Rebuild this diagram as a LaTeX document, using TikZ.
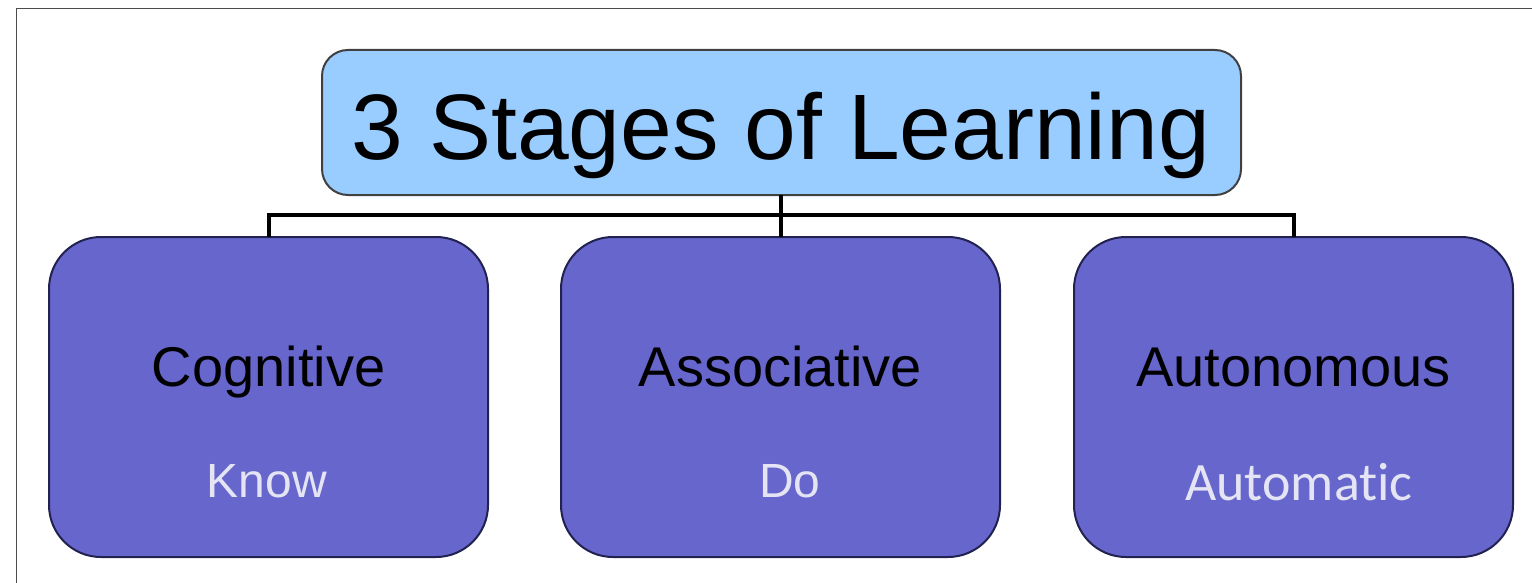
\documentclass[tikz,border=0pt]{standalone}
\usepackage{fontspec}
\setmainfont{Liberation Sans}
\newfontfamily\subfont[Ligatures=NoCommon]{Carlito}
\begin{document}
\begin{tikzpicture}[x=1pt,y=-1pt,
  titlebox/.style={draw=black!75, line width=2pt, fill=titleblue, rounded corners=26pt},
  stagebox/.style={draw=navy, line width=2pt, fill=stagepurple, rounded corners=52pt},
  link/.style={line width=4pt, black},
  stagename/.style={anchor=base, font=\fontsize{56}{60}\selectfont, text=black},
  stagesub/.style={anchor=base, font=\fontsize{48}{54}\selectfont, text=sublav}]
\definecolor{titleblue}{HTML}{99CCFF}
\definecolor{stagepurple}{HTML}{6666CC}
\definecolor{navy}{HTML}{222250}
\definecolor{sublav}{HTML}{E4E4F4}
\useasboundingbox (0,0) rectangle (1532,583);
% outer frame
\draw[line width=1.5pt, black!70] (16.5,600) -- (16.5,8.5) -- (1540,8.5);
% title
\draw[titlebox] (322,50) rectangle (1241,195);
\node[anchor=base, font=\fontsize{93}{100}\selectfont] (title) at (781,160) {3 Stages of Learning};
\coordinate (tb) at (781,195);
% stage boxes
\draw[stagebox] (49,237) rectangle (488,557);
\draw[stagebox] (561,237) rectangle (1000,557);
\draw[stagebox] (1074,237) rectangle (1513,557);
\coordinate (s1) at (268.5,237);
\coordinate (s2) at (781,237);
\coordinate (s3) at (1294,237);
\coordinate (bar) at (781,215);
% connectors
\draw[link] (tb) -- (bar);
\draw[link, line join=miter] (s1) -- (s1 |- bar) -- (s3 |- bar) -- (s3);
\draw[link] (bar) -- (s2);
% labels
\node[stagename] (c1) at (268.5,386) {Cognitive};
\node[stagename] (c2) at (780.5,386) {Associative};
\node[stagename] (c3) at (1293.5,386) {Autonomous};
\node[stagesub] (k1) at (267,497) {Know};
\node[stagesub] (k2) at (790,497) {Do};
\node[stagesub, font=\subfont\fontsize{54}{60}\selectfont] (k3) at (1299,500) {Automatic};
\end{tikzpicture}
\end{document}
